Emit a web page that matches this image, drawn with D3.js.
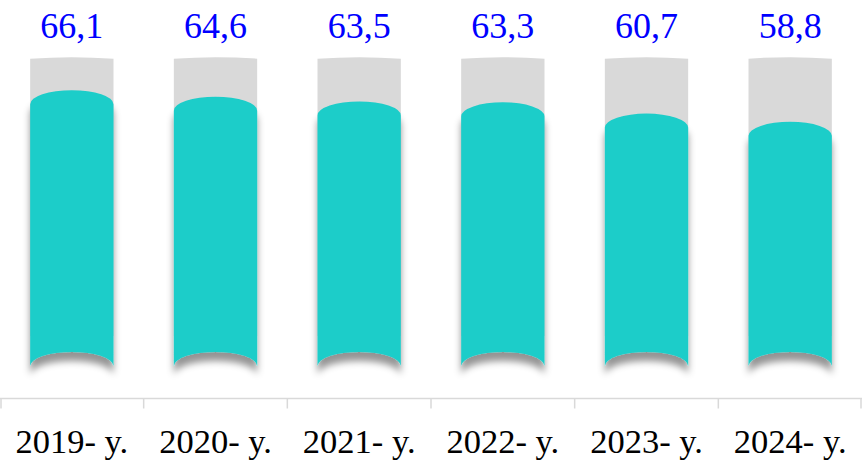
<!DOCTYPE html>
<html>
<head>
<meta charset="utf-8">
<script src="https://cdn.jsdelivr.net/npm/d3@7"></script>
<style>
  html, body { margin: 0; padding: 0; background: #fff; }
  svg { display: block; }
  text { font-family: "Liberation Serif", "Times New Roman", serif; }
</style>
</head>
<body>
<svg id="chart"></svg>
<script>
// data
const years = ["2019- y.", "2020- y.", "2021- y.", "2022- y.", "2023- y.", "2024- y."];
const values = [66.1, 64.6, 63.5, 63.3, 60.7, 58.8];
const valueLabels = ["66,1", "64,6", "63,5", "63,3", "60,7", "58,8"];
const trackMax = 73.7; // grey background column

const W = 862, H = 461;
const barBase = 366;   // bottom of the columns (sides)
const axisY = 398.5;

const svg = d3.select("#chart").attr("width", W).attr("height", H);

const defs = svg.append("defs");
const f = defs.append("filter").attr("id", "shadow")
  .attr("x", "-30%").attr("y", "-20%").attr("width", "160%").attr("height", "140%");
f.append("feDropShadow").attr("dx", 0).attr("dy", 9).attr("stdDeviation", 3.5)
  .attr("flood-color", "#000").attr("flood-opacity", 0.42);

const x = d3.scaleBand().domain(years).range([0, W]).padding(0);
const y = d3.scaleLinear().domain([0, 75]).range([377, 51.5]);

const barW = x.bandwidth() * 0.58;
const capRy = 14;     // top ellipse of the teal column
const baseRy = 14;    // concave bottom

function left(d) { return x(d) + (x.bandwidth() - barW) / 2; }

// grey tracks
svg.append("g").selectAll("path")
  .data(years)
  .join("path")
  .attr("fill", "#d9d9d9")
  .attr("d", d => {
    const x0 = left(d), x1 = x0 + barW, top = y(trackMax);
    return `M${x0},${top + 1.5} Q${x0 + barW / 2},${top - 1.5} ${x1},${top + 1.5} L${x1},${barBase - 30} L${x0},${barBase - 30} Z`;
  });

// teal columns
svg.append("g").selectAll("path")
  .data(values)
  .join("path")
  .attr("fill", "#1ecdc9")
  .attr("filter", "url(#shadow)")
  .attr("d", (v, i) => {
    const x0 = left(years[i]), x1 = x0 + barW, rx = barW / 2;
    const top = y(v);
    return `M${x0},${top + capRy} A${rx},${capRy} 0 0 1 ${x1},${top + capRy}` +
      ` L${x1},${barBase} A${rx},${baseRy} 0 0 0 ${x0},${barBase} Z`;
  });

// value labels
svg.append("g").selectAll("text")
  .data(valueLabels)
  .join("text")
  .attr("x", (d, i) => x(years[i]) + x.bandwidth() / 2)
  .attr("y", 38)
  .attr("text-anchor", "middle")
  .attr("font-size", 36)
  .attr("fill", "#0000ff")
  .text(d => d);

// axis
const axis = svg.append("g");
axis.append("line")
  .attr("x1", 0).attr("x2", W).attr("y1", axisY).attr("y2", axisY)
  .attr("stroke", "#d9d9d9").attr("stroke-width", 1.5);
axis.selectAll("line.tick")
  .data(years.map(d => x(d)).concat([W]))
  .join("line")
  .attr("class", "tick")
  .attr("x1", d => Math.min(Math.max(d, 1), W - 1)).attr("x2", d => Math.min(Math.max(d, 1), W - 1))
  .attr("y1", axisY).attr("y2", axisY + 10)
  .attr("stroke", "#d9d9d9").attr("stroke-width", 1.5);

axis.selectAll("text")
  .data(years)
  .join("text")
  .attr("x", d => x(d) + x.bandwidth() / 2)
  .attr("y", 453)
  .attr("text-anchor", "middle")
  .attr("font-size", 34.5)
  .attr("fill", "#000")
  .text(d => d);
</script>
</body>
</html>
